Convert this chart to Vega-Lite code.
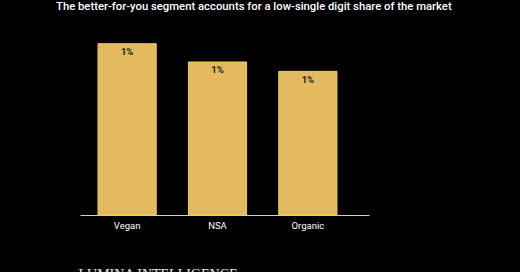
{
  "$schema": "https://vega.github.io/schema/vega-lite/v6.json",
  "autosize": {"type": "none"},
  "width": 289,
  "height": 190,
  "padding": {"left": 80, "top": 25, "right": 151, "bottom": 57},
  "background": "#000000",
  "config": {"view": {"stroke": null}, "font": "Roboto"},
  "title": {
    "text": "The better-for-you segment accounts for a low-single digit share of the market",
    "anchor": "start",
    "dx": -22,
    "offset": 13,
    "fontSize": 11.3,
    "fontWeight": 500,
    "color": "#ffffff",
    "font": "Roboto"
  },
  "data": {
    "values": [
      {"segment": "Vegan", "share": 1.19, "label": "1%"},
      {"segment": "NSA", "share": 1.063, "label": "1%"},
      {"segment": "Organic", "share": 0.998, "label": "1%"}
    ]
  },
  "encoding": {
    "x": {
      "field": "segment",
      "type": "nominal",
      "sort": null,
      "scale": {"paddingInner": 0.356, "paddingOuter": 0.277, "align": 0.36},
      "axis": {
        "title": "LUMINA INTELLIGENCE",
        "titleFont": "Liberation Serif",
        "titleFontSize": 14,
        "titleFontWeight": "normal",
        "titleColor": "#e8e8e8",
        "titleAnchor": "start",
        "titleAlign": "left",
        "titleBaseline": "top",
        "titleX": -2,
        "titleY": 52,
        "labelAngle": 0,
        "labelColor": "#ffffff",
        "labelFontSize": 9.5,
        "labelFont": "Roboto",
        "labelPadding": 5,
        "ticks": false,
        "domainColor": "#cfcfcf",
        "domainWidth": 1
      }
    },
    "y": {
      "field": "share",
      "type": "quantitative",
      "scale": {"domain": [0, 1.32], "nice": false},
      "axis": null
    }
  },
  "layer": [
    {"mark": {"type": "bar", "fill": "#E3BB5E", "stroke": "#F3C85E", "strokeWidth": 1}},
    {
      "mark": {"type": "text", "baseline": "top", "dy": 3.5, "fontSize": 9.5, "fontWeight": "bold", "color": "#1c1c1c", "font": "Roboto"},
      "encoding": {"text": {"field": "label"}}
    }
  ]
}
